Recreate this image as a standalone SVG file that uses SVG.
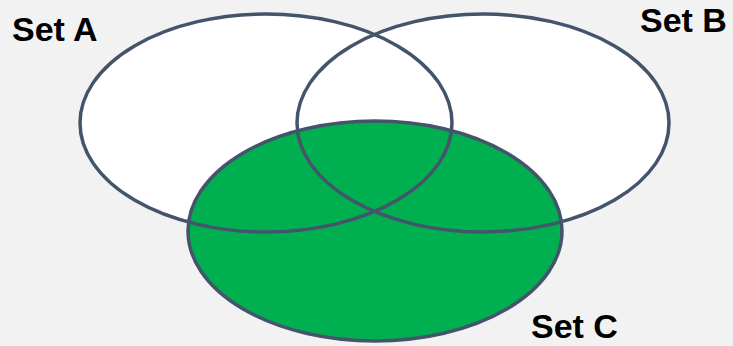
<svg xmlns="http://www.w3.org/2000/svg" width="733" height="346" viewBox="0 0 733 346">
<style>
.set{stroke:#44546A;stroke-width:3.5}
.lbl{font-family:"Liberation Sans",Arial,sans-serif;font-weight:bold;font-size:34px;fill:#000}
</style>
<rect width="733" height="346" fill="#F2F2F2"/>
<g id="setA-fill"><ellipse cx="266" cy="123" rx="186" ry="109" fill="#FFFFFF"/></g>
<g id="setB-fill"><ellipse cx="483" cy="123" rx="186" ry="109" fill="#FFFFFF"/></g>
<g id="setC"><ellipse class="set" cx="375" cy="231" rx="187" ry="110" fill="#00B050"/></g>
<g id="setA"><ellipse class="set" cx="266" cy="123" rx="186" ry="109" fill="none"/><text class="lbl" x="12" y="41">Set A</text></g>
<g id="setB"><ellipse class="set" cx="483" cy="123" rx="186" ry="109" fill="none"/><text class="lbl" x="640" y="32">Set B</text></g>
<g id="labelC"><text class="lbl" x="531" y="338">Set C</text></g>
</svg>
